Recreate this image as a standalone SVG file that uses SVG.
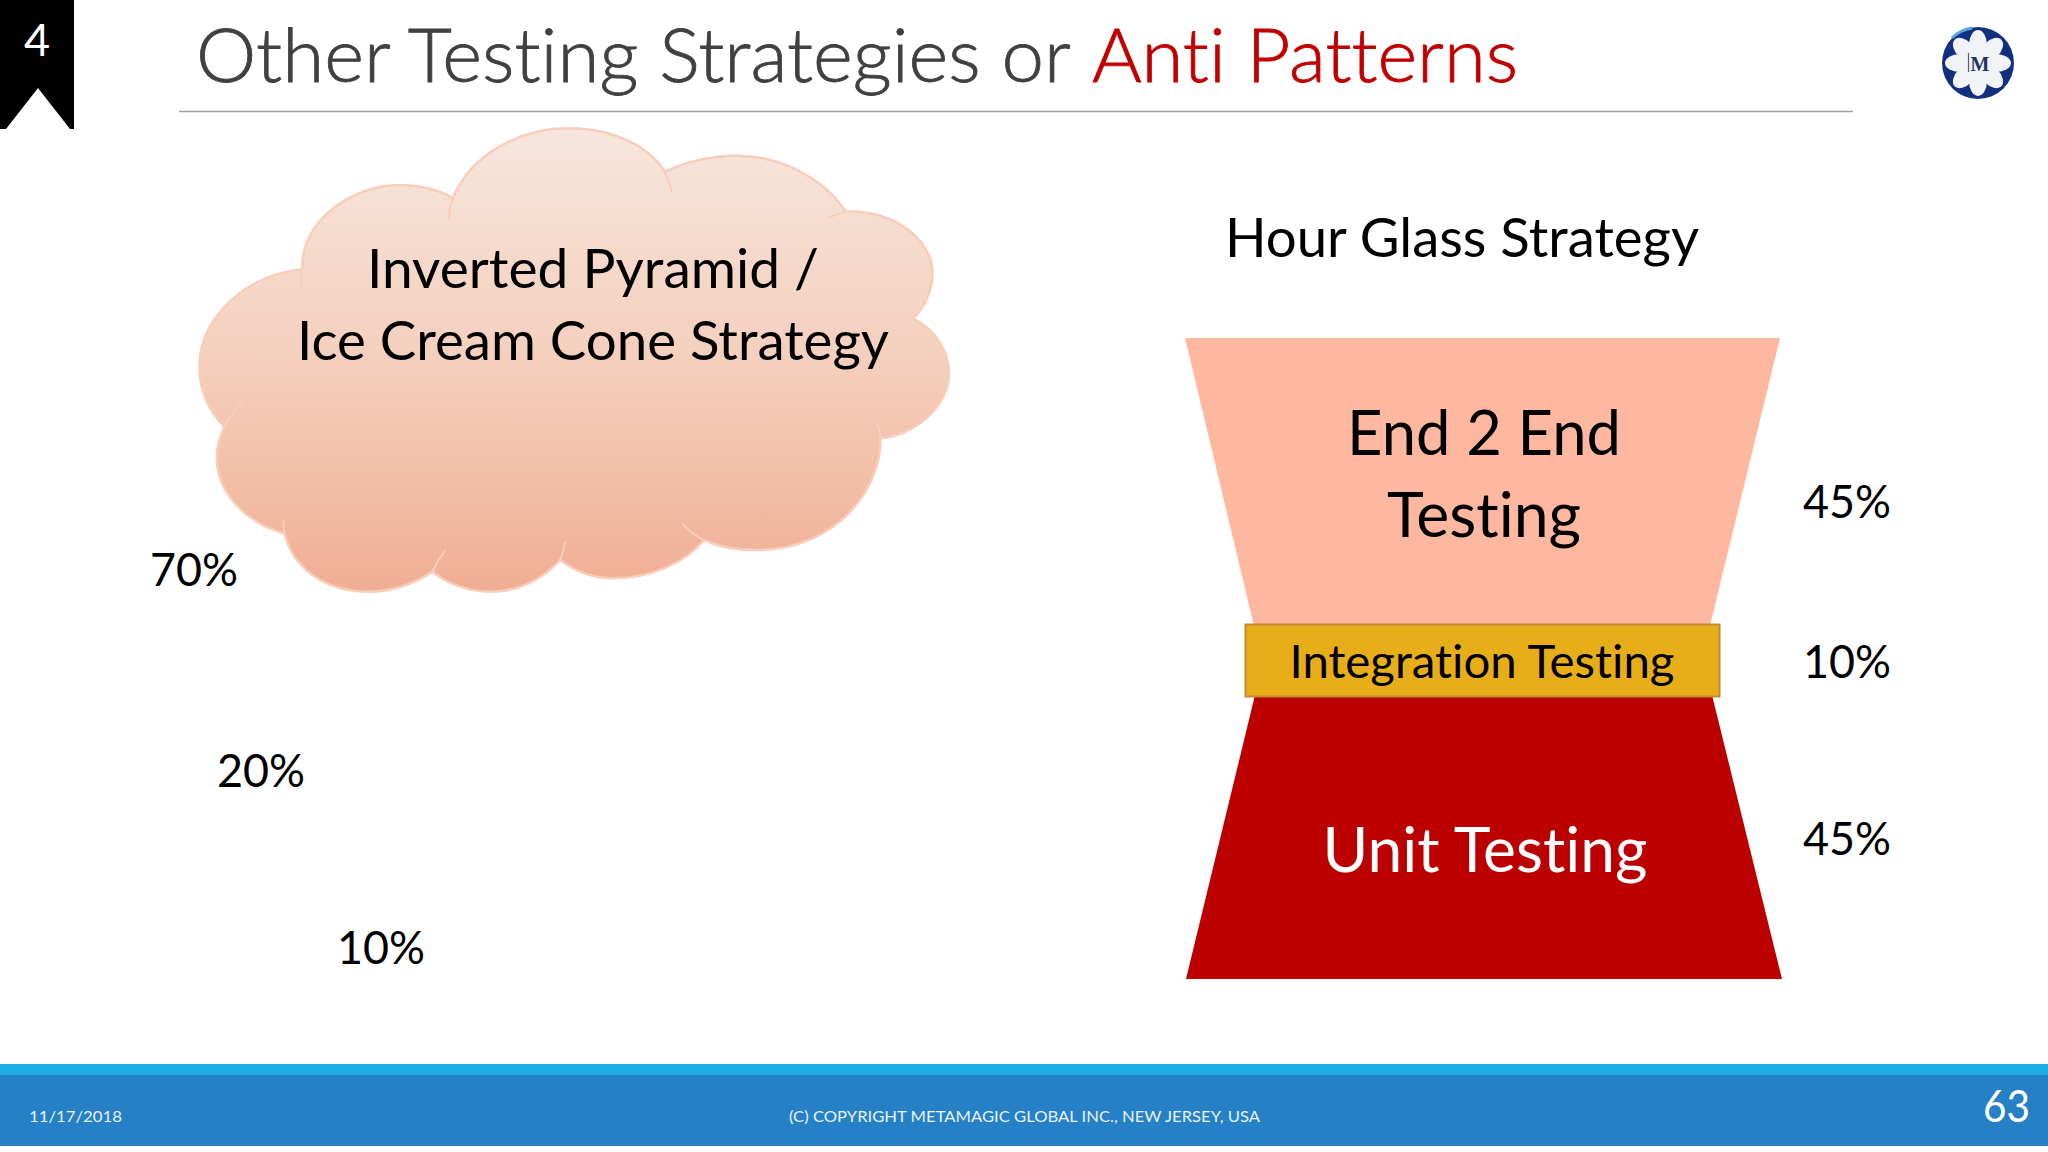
<svg xmlns="http://www.w3.org/2000/svg" width="2048" height="1152" viewBox="0 0 2048 1152">
<defs>
<linearGradient id="cloudFill" x1="0" y1="0" x2="0" y2="1"><stop offset="0" stop-color="#f7e6dd"/><stop offset="0.5" stop-color="#f4cfbd"/><stop offset="1" stop-color="#f0ae93"/></linearGradient>
<ellipse id="petal" cx="1978" cy="45" rx="9" ry="15" fill="#f1f3f7"/>
</defs>
<style>
text{font-family:"Lato","Open Sans","Liberation Sans",sans-serif;fill:#000;font-variant-ligatures:none}
.pct{font-size:46px;text-anchor:middle}
.foot{font-size:15.500px;fill:#e8f2fa}
.outline{stroke:#f8cdbb;stroke-width:2.500;vector-effect:non-scaling-stroke}
.seam{fill:none;stroke:#f8cdbb;stroke-width:2;vector-effect:non-scaling-stroke}
</style>
<rect width="2048" height="1152" fill="#ffffff"/>
<g id="ribbon"><polygon points="0,0 74,0 74,129 70,129 38,88 6,129 0,129" fill="#000"/><text x="37" y="56" font-size="45" text-anchor="middle" style="fill:#fff">4</text></g>
<g id="title">
<text x="196" y="82" font-size="75" font-weight="300" textLength="875" lengthAdjust="spacingAndGlyphs" stroke="#404040" stroke-width="0.800" style="fill:#404040">Other Testing Strategies or</text>
<text x="1092" y="82" font-size="75" font-weight="300" textLength="426" lengthAdjust="spacingAndGlyphs" stroke="#c00000" stroke-width="0.800" style="fill:#c00000">Anti Patterns</text>
<line x1="179" y1="111.500" x2="1853" y2="111.500" stroke="#a0a0a0" stroke-width="1.500"/>
</g>
<g id="logo">
<circle cx="1978" cy="63" r="36" fill="#12307f"/>
<path d="M1952 38 A36 36 0 0 1 1972 28" fill="none" stroke="#5aa6dc" stroke-width="3"/>
<circle cx="1978" cy="63" r="21" fill="#f1f3f7"/>
<use href="#petal"/>
<use href="#petal" transform="rotate(45 1978 63)"/>
<use href="#petal" transform="rotate(90 1978 63)"/>
<use href="#petal" transform="rotate(135 1978 63)"/>
<use href="#petal" transform="rotate(180 1978 63)"/>
<use href="#petal" transform="rotate(225 1978 63)"/>
<use href="#petal" transform="rotate(270 1978 63)"/>
<use href="#petal" transform="rotate(315 1978 63)"/>
<text x="1980" y="71" font-size="20" font-weight="700" text-anchor="middle" style="font-family:'Liberation Serif',serif;fill:#24305f">M</text>
<line x1="1968.500" y1="53" x2="1968.500" y2="72" stroke="#555c80" stroke-width="1.200"/>
</g>
<g id="cloud">
<g transform="translate(180 110) scale(0.5102 0.33333)">
<path class="outline" fill="url(#cloudFill)" d="M240 478 C235 330 340 225 430 225 C470 225 510 240 535 265 C570 130 670 55 760 55 C850 55 920 110 950 185 C1000 150 1050 137 1090 137 C1180 137 1265 210 1305 305 C1400 300 1475 390 1475 490 C1475 540 1460 590 1437 625 C1480 660 1507 720 1507 790 C1507 890 1440 975 1373 985 C1375 1130 1290 1320 1130 1320 C1090 1320 1055 1310 1027 1290 C990 1360 920 1405 850 1405 C810 1405 775 1385 745 1350 C710 1410 660 1445 610 1445 C570 1445 525 1425 495 1385 C460 1420 420 1445 370 1445 C280 1445 220 1370 205 1270 C130 1240 72 1150 72 1040 C72 1010 78 980 87 950 C55 900 38 840 38 770 C38 620 130 495 240 478 Z"/>
<path class="seam" d="M240 478 Q235 510 238 545 M535 265 Q527 295 527 330 M950 185 Q960 215 965 250 M1305 305 Q1285 312 1270 325 M1373 985 Q1373 960 1365 940 M1027 1290 Q1000 1270 985 1240 M745 1350 Q752 1325 755 1295 M495 1385 Q505 1350 520 1320 M205 1270 Q202 1250 203 1230 M87 950 Q100 910 125 875"/>
</g>
<text x="593" y="288" font-size="55" text-anchor="middle" textLength="452" lengthAdjust="spacingAndGlyphs">Inverted Pyramid /</text>
<text x="593" y="360" font-size="55" text-anchor="middle" textLength="592" lengthAdjust="spacingAndGlyphs">Ice Cream Cone Strategy</text>
</g>
<text class="pct" x="194" y="586" textLength="88" lengthAdjust="spacingAndGlyphs">70%</text>
<text class="pct" x="261" y="787" textLength="88" lengthAdjust="spacingAndGlyphs">20%</text>
<text class="pct" x="381" y="964" textLength="88" lengthAdjust="spacingAndGlyphs">10%</text>
<text x="1462" y="257" font-size="55" text-anchor="middle" textLength="474" lengthAdjust="spacingAndGlyphs">Hour Glass Strategy</text>
<g id="e2e">
<polygon points="1185,338 1780,338 1710,626 1254,626" fill="#ffb8a0"/>
<text x="1484" y="455" font-size="62" text-anchor="middle" textLength="274" lengthAdjust="spacingAndGlyphs">End 2 End</text>
<text x="1484" y="537" font-size="62" text-anchor="middle" textLength="194" lengthAdjust="spacingAndGlyphs">Testing</text>
</g>
<g id="unit">
<polygon points="1255,695 1712,695 1782,979 1186,979" fill="#bc0000"/>
<text x="1485" y="872" font-size="62" text-anchor="middle" textLength="325" lengthAdjust="spacingAndGlyphs" style="fill:#fff">Unit Testing</text>
</g>
<g id="integration">
<rect x="1245.500" y="624.500" width="474" height="72" fill="#e8ae1a" stroke="#c58a32" stroke-width="2"/>
<text x="1482" y="678" font-size="46" text-anchor="middle" textLength="385" lengthAdjust="spacingAndGlyphs">Integration Testing</text>
</g>
<text class="pct" x="1847" y="518" textLength="88" lengthAdjust="spacingAndGlyphs">45%</text>
<text class="pct" x="1847" y="678" textLength="88" lengthAdjust="spacingAndGlyphs">10%</text>
<text class="pct" x="1847" y="855" textLength="88" lengthAdjust="spacingAndGlyphs">45%</text>
<g id="footer">
<rect y="1064" width="2048" height="12" fill="#1cade3"/>
<rect y="1075" width="2048" height="71" fill="#2580c5"/>
<text class="foot" x="29" y="1122" textLength="93" lengthAdjust="spacingAndGlyphs">11/17/2018</text>
<text class="foot" x="789" y="1122" textLength="471" lengthAdjust="spacingAndGlyphs">(C) COPYRIGHT METAMAGIC GLOBAL INC., NEW JERSEY, USA</text>
<text x="1983" y="1122" font-size="44" textLength="47" lengthAdjust="spacingAndGlyphs" style="fill:#fff">63</text>
</g>
</svg>
